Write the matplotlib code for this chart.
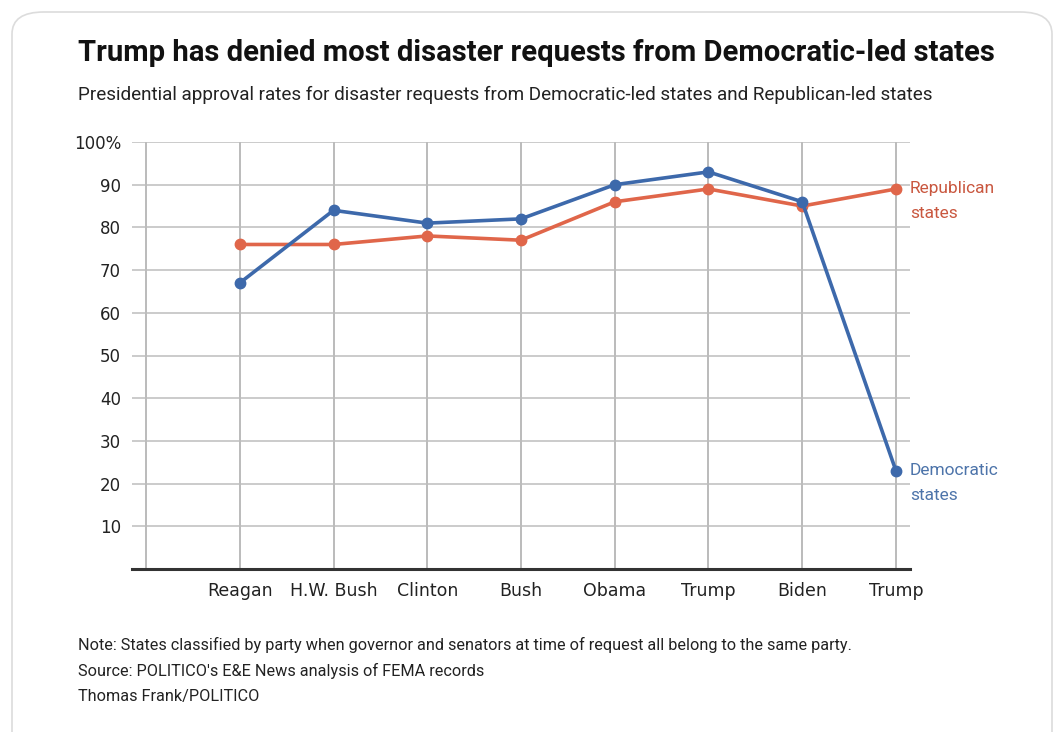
import matplotlib.pyplot as plt
from matplotlib.patches import FancyBboxPatch

presidents = ['Reagan', 'H.W. Bush', 'Clinton', 'Bush', 'Obama', 'Trump', 'Biden', 'Trump']
democratic = [67, 84, 81, 82, 90, 93, 86, 23]
republican = [76, 76, 78, 77, 86, 89, 85, 89]
y_ticks = [10, 20, 30, 40, 50, 60, 70, 80, 90, 100]
y_labels = ['10', '20', '30', '40', '50', '60', '70', '80', '90', '100%']

blue, red = '#3d69ab', '#e0664a'
narrow = ['Roboto', 'DejaVu Sans']
plain = ['DejaVu Sans']


def fit_width(fig, txt, target_px):
    # shrink/grow a text so it spans the same width as in the original
    r = fig.canvas.get_renderer()
    w = txt.get_window_extent(r).width
    txt.set_fontsize(txt.get_fontsize() * target_px / w)


def main():
    fig = plt.figure(figsize=(10.6, 7.32), dpi=100)
    W, H = 1060, 732

    card = FancyBboxPatch((12 / W, -0.05), 1040 / W, 1 - 12 / H + 0.05,
                          boxstyle='round,pad=0,rounding_size=0.03',
                          transform=fig.transFigure, facecolor='white',
                          edgecolor='#dcdcdc', linewidth=1.2, zorder=-5)
    fig.patches.append(card)

    ax = fig.add_axes([132 / W, 1 - 569 / H, (910 - 132) / W, (569 - 142) / H])
    ax.set_zorder(2)
    x = list(range(1, len(presidents) + 1))

    ax.set_xlim(-0.15, 8.15)
    ax.set_ylim(0, 100)
    for xv in [0] + x:
        ax.axvline(xv, color='#a8a8a8', lw=1.1, zorder=1)
    for yv in y_ticks:
        ax.axhline(yv, color='#bdbdbd', lw=1.1, zorder=1)

    ax.plot(x, republican, color=red, lw=2.6, marker='o', ms=7.5, zorder=3)
    ax.plot(x, democratic, color=blue, lw=2.6, marker='o', ms=7.5, zorder=4)

    for s in ['top', 'left', 'right']:
        ax.spines[s].set_visible(False)
    ax.spines['bottom'].set_color('#333333')
    ax.spines['bottom'].set_linewidth(2.2)

    ax.set_yticks(y_ticks)
    ax.set_yticklabels(y_labels, fontsize=12, color='#222222', family=plain)
    ax.set_xticks(x)
    ax.set_xticklabels(presidents, fontsize=12.5, color='#222222', family=plain)
    ax.tick_params(axis='x', length=0, pad=9)
    ax.tick_params(axis='y', length=0, pad=8)
    ax.set_facecolor('none')

    # end labels: two lines, first one centred on the last point
    for val, words, col in [(republican[-1], ['Republican', 'states'], '#c9573f'),
                            (democratic[-1], ['Democratic', 'states'], '#4d74aa')]:
        for k, w in enumerate(words):
            ax.annotate(w, (8.15, val), xytext=(0, -17.5 * k), textcoords='offset points',
                        color=col, fontsize=12.5, va='center', ha='left',
                        family=narrow, annotation_clip=False)

    title = fig.text(78 / W, 1 - 53 / H, 'Trump has denied most disaster requests from Democratic-led states',
                     fontsize=20, fontweight='bold', family=narrow, va='center', ha='left', color='#111111')
    sub = fig.text(78 / W, 1 - 95 / H, 'Presidential approval rates for disaster requests from Democratic-led states and Republican-led states',
                   fontsize=13, family=narrow, va='center', ha='left', color='#222222')

    notes = ["Note: States classified by party when governor and senators at time of request all belong to the same party.",
             "Source: POLITICO's E&E News analysis of FEMA records",
             "Thomas Frank/POLITICO"]
    note_txt = []
    for i, n in enumerate(notes):
        note_txt.append(fig.text(78 / W, 1 - (645 + 25.5 * i) / H, n, fontsize=11, family=narrow,
                                 va='center', ha='left', color='#222222'))

    fit_width(fig, title, 912)
    fit_width(fig, sub, 855)
    fit_width(fig, note_txt[0], 768)
    for t in note_txt[1:]:
        t.set_fontsize(note_txt[0].get_fontsize())

    fig.savefig('out.png', dpi=100, facecolor='white')


if __name__ == '__main__':
    main()
